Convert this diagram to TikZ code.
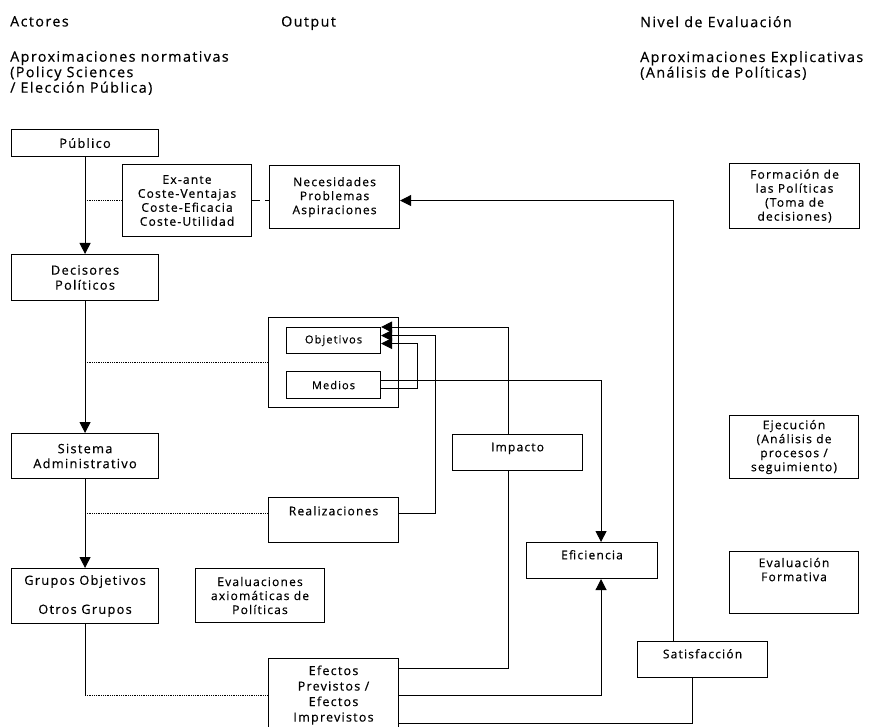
\documentclass[tikz,border=0pt]{standalone}
\usepackage{fontspec}
\setmainfont{Open Sans}[LetterSpace=10, FakeBold=0.5]
\usetikzlibrary{
	arrows.meta,
	calc,
	positioning,
}
\tikzset{caja/.style={
	draw,
	rectangle,
	anchor=north west,
	inner sep=1pt,
	align=center,
	line width=1.1pt,
	font=\fontsize{12}{14}\selectfont,
}}
\tikzset{actor/.style={caja, font=\fontsize{12.8}{15}\selectfont}}
\tikzset{titulo/.style={
	anchor=north west,
	inner sep=0pt,
	align=left,
	font=\fontsize{14.3}{15.5}\selectfont,
}}
\tikzset{subir/.style={text height=8pt, text depth=#1}}
\tikzset{linea/.style={line width=1pt}}
\tikzset{flecha/.style={line width=1pt, -{Triangle[length=11pt,width=11pt]}}}
\tikzset{punteado/.style={densely dotted, line width=0.8pt}}

\begin{document}
\begin{tikzpicture}[x=1pt, y=-1pt]
\useasboundingbox (0,0) rectangle (870,727);

% cabeceras
\node (actores) [titulo] at (10,16) {Actores};
\node (output) [titulo] at (281,16) {Output};
\node (nivel) [titulo] at (640,16) {Nivel de Evaluación};
\node (normativas) [titulo] at (10,51) {Aproximaciones normativas\\(Policy Sciences\\/ Elección Pública)};
\node (explicativas) [titulo] at (640,51) {Aproximaciones Explicativas\\(Análisis de Políticas)};

% columna de actores
\node (publico) [actor, minimum width=147pt, minimum height=27pt] at (11,129) {Público};
\node (decisores) [actor, minimum width=147pt, minimum height=46pt] at (11,254) {Decisores\\Políticos};
\node (sistema) [actor, minimum width=147pt, minimum height=45pt] at (11,433) {Sistema\\Administrativo};
\node (grupos) [actor, minimum width=147pt, minimum height=55pt] at (11,568) {Grupos Objetivos\\[14pt]Otros Grupos};

% output
\node (exante) [caja, minimum width=129pt, minimum height=72pt] at (122,164) {Ex-ante\\Coste-Ventajas\\Coste-Eficacia\\Coste-Utilidad};
\node (necesidades) [caja, minimum width=130pt, minimum height=63pt] at (269,165) {Necesidades\\Problemas\\Aspiraciones};
\node (marco) [caja, minimum width=130pt, minimum height=90pt] at (268,317) {};
\node (objetivos) [caja, minimum width=94pt, minimum height=26pt, font=\fontsize{11}{12}\selectfont] at (286,327) {Objetivos};
\node (medios) [caja, minimum width=94pt, minimum height=27pt, font=\fontsize{11}{12}\selectfont] at (286,371) {Medios};
\node (realizaciones) [caja, subir=17.5pt, minimum width=130pt, minimum height=45pt] at (268,497) {Realizaciones};
\node (axiomaticas) [caja, minimum width=129pt, minimum height=54pt] at (195,568) {Evaluaciones\\axiomáticas de\\Políticas};
\node (efectos) [caja, minimum width=130pt, minimum height=73pt, font=\fontsize{12.5}{15.5}\selectfont] at (268,658) {Efectos\\Previstos /\\Efectos\\Imprevistos};
\node (impacto) [caja, subir=10.5pt, minimum width=130pt, minimum height=36pt] at (452,434) {Impacto};
\node (eficiencia) [caja, subir=10.5pt, minimum width=131pt, minimum height=36pt] at (526,542) {Eficiencia};
\node (satisfaccion) [caja, subir=10.5pt, minimum width=130pt, minimum height=36pt] at (637,641) {Satisfacción};

% nivel de evaluacion
\node (formacion) [caja, minimum width=130pt, minimum height=65pt] at (729,163) {Formación de\\las Políticas\\(Toma de\\decisiones)};
\node (ejecucion) [caja, minimum width=129pt, minimum height=63pt] at (729,415) {Ejecución\\(Análisis de\\procesos /\\seguimiento)};
\node (formativa) [caja, minimum width=129pt, minimum height=62pt] at (729,551) {Evaluación\\Formativa\\[12pt]};

% flechas de actores
\foreach \u \v in {
	publico/decisores,
	decisores/sistema,
	sistema/grupos%
}{
	\draw[flecha] (\u) -- (\v);
}

% lineas punteadas
\draw[punteado] (publico.south |- exante.west) -- (exante.west);
\draw[punteado] (decisores.south |- marco.west) -- (marco.west);
\draw[punteado] ([yshift=7pt]sistema.south |- realizaciones.west) -- ([yshift=7pt]realizaciones.west);
\draw[linea] (grupos.south) -- (grupos.south |- efectos.west);
\draw[punteado] (grupos.south |- efectos.west) -- (efectos.west);
\draw[dashed, dash pattern=on 8pt off 5pt, line width=0.8pt] (exante.east) -- (exante.east -| necesidades.west);

% retroalimentacion
\draw[flecha] ([xshift=-29pt]satisfaccion.north) |- (necesidades.east |- exante.east);
\draw[flecha] ([xshift=-9pt]impacto.north) |- (objetivos.north east);
\draw[flecha] ([yshift=7pt]realizaciones.east) -- ++(36,0) |- ([yshift=5pt]objetivos.east);
\draw[flecha] ([yshift=-3.5pt]medios.east) -- ++(36,0) |- ([yshift=-3pt]objetivos.east);
\draw[flecha] ([yshift=4.5pt]medios.east) -| ([xshift=9pt]eficiencia.north);

% efectos
\draw[linea] ([yshift=27pt]efectos.east) -| ([xshift=-9pt]impacto.south);
\draw[flecha] (efectos.east) -| ([xshift=9pt]eficiencia.south);
\draw[linea] ([yshift=-28pt]efectos.east) -| ([xshift=-10pt]satisfaccion.south);

\end{tikzpicture}
\end{document}
